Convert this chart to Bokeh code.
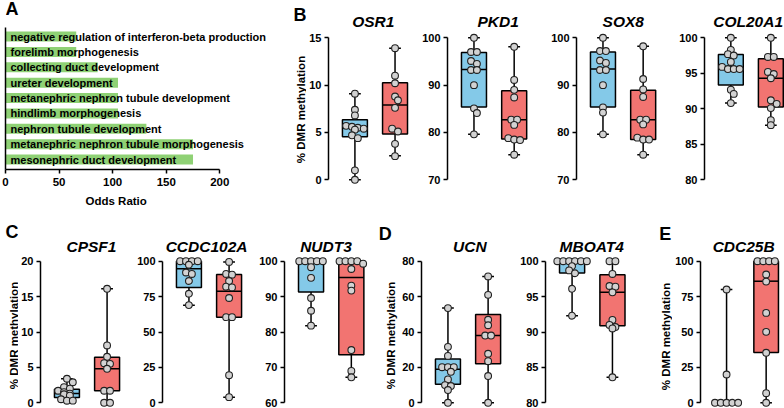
import numpy as np
from bokeh.plotting import figure
from bokeh.models import Range1d, FixedTicker
from bokeh.layouts import row, column
from bokeh.embed import file_html
from bokeh.resources import INLINE
from bokeh.core.properties import value

FONT = "Liberation Sans"
BLUE = "#84C9E8"
RED = "#F27471"
DOTC = "#D2D2D2"
GREEN = "#8FD175"

# ---------------- Panel A data ----------------
go_terms = [
    "negative regulation of interferon-beta production",
    "forelimb morphogenesis",
    "collecting duct development",
    "ureter development",
    "metanephric nephron tubule development",
    "hindlimb morphogenesis",
    "nephron tubule development",
    "metanephric nephron tubule morphogenesis",
    "mesonephric duct development",
]
odds_ratio = [66, 66, 86, 105, 105, 105, 131.5, 175, 175]
odds_ticks = [0, 50, 100, 150, 200]
odds_label = "Odds Ratio"

# ---------------- Box plot data (blue group, red group) ----------------
# box stats: [whisker min, Q1, median, Q3, whisker max]
OSR1_blue = [9.1, 7.4, 6.8, 5.7, 5.6, 5.5, 5.4, 5.3, 4.7, 4.4, 1.0, 0.0]
OSR1_red = [13.9, 11.0, 10.2, 8.8, 8.4, 7.6, 5.4, 5.1, 3.8, 2.5]
OSR1_blue_box = [0.0, 4.55, 5.45, 6.35, 9.1]
OSR1_red_box = [2.55, 4.85, 7.9, 10.25, 13.9]
OSR1_ticks = [0, 5, 10, 15]

PKD1_blue = [100, 97.0, 97.0, 95.1, 94.5, 93.2, 93.2, 90.0, 85.1, 84.1, 79.6]
PKD1_red = [98.1, 91.1, 89.0, 87.4, 82.7, 82.7, 81.6, 78.8, 78.5, 78.4, 75.3]
PKD1_blue_box = [79.6, 85.4, 93.3, 96.9, 100]
PKD1_red_box = [75.3, 78.6, 82.7, 88.8, 98.1]
PKD1_ticks = [70, 80, 90, 100]

SOX8_blue = [100, 97.2, 97.2, 95.2, 94.7, 93.2, 93.2, 90.0, 85.3, 84.2, 79.6]
SOX8_red = [98.2, 91.3, 89.1, 87.5, 82.7, 82.7, 81.7, 78.9, 78.5, 78.5, 75.3]
SOX8_blue_box = [79.6, 85.4, 93.4, 97.0, 100]
SOX8_red_box = [75.3, 78.5, 82.7, 88.9, 98.2]
SOX8_ticks = [70, 80, 90, 100]

COL20A1_blue = [100, 98.3, 97.7, 97.5, 96.6, 95.9, 95.6, 95.6, 95.6, 92.7, 92.1, 90.8]
COL20A1_red = [100, 97.3, 97.3, 95.2, 94.9, 94.3, 91.2, 90.7, 90.1, 88.4, 87.7]
COL20A1_blue_box = [90.8, 93.35, 95.65, 97.65, 100]
COL20A1_red_box = [87.7, 90.25, 94.3, 97.05, 100]
COL20A1_ticks = [80, 85, 90, 95, 100]

CPSF1_blue = [3.4, 2.9, 2.2, 2.0, 1.7, 1.5, 1.3, 1.2, 1.0, 0.5, 0.3, 0.3]
CPSF1_red = [16.1, 8.1, 6.5, 5.6, 5.5, 4.8, 1.7, 1.7, 0.0, 0.0]
CPSF1_blue_box = [0.3, 0.75, 1.3, 1.9, 3.4]
CPSF1_red_box = [0.0, 1.7, 4.8, 6.45, 16.1]
CPSF1_ticks = [0, 5, 10, 15, 20]

CCDC102A_blue = [100, 100, 100, 100, 97.5, 92, 91, 86, 77, 69]
CCDC102A_red = [99.5, 91, 90.5, 86, 82, 81.5, 74, 60.5, 60.5, 19.5, 4]
CCDC102A_blue_box = [68.9, 81.4, 94.6, 100, 100]
CCDC102A_red_box = [4.0, 60.5, 78.8, 90.6, 99.5]
CCDC102A_ticks = [0, 25, 50, 75, 100]

NUDT3_blue = [100, 100, 100, 100, 100, 98.3, 95.3, 89.6, 86.0, 81.8]
NUDT3_red = [100, 100, 100, 100, 99.3, 97.8, 93.1, 91.7, 74.9, 69.0, 67.2]
NUDT3_blue_box = [81.8, 91.3, 100, 100, 100]
NUDT3_red_box = [67.2, 73.6, 95.4, 100, 100]
NUDT3_ticks = [60, 70, 80, 90, 100]

UCN_blue = [53.5, 31.6, 26.5, 20.1, 20.1, 20.1, 17.5, 13.2, 10.0, 9.5, 7.2, 0.0]
UCN_red = [71.4, 61.0, 46.9, 43.8, 38.0, 38.0, 27.7, 23.5, 15.1, 0.0]
UCN_blue_box = [0.0, 10.5, 19.0, 24.7, 53.5]
UCN_red_box = [0.0, 22.0, 38.0, 49.9, 71.4]
UCN_ticks = [0, 20, 40, 60, 80]

MBOAT4_blue = [100, 100, 100, 100, 100, 100, 99.3, 98.7, 98.3, 96.1, 92.3]
MBOAT4_red = [100, 100, 98.2, 96.5, 96.4, 95.6, 91.7, 91.0, 90.7, 90.5, 83.6]
MBOAT4_blue_box = [92.3, 98.35, 100, 100, 100]
MBOAT4_red_box = [83.6, 90.9, 95.6, 98.1, 100]
MBOAT4_ticks = [80, 85, 90, 95, 100]

CDC25B_blue = [80, 20, 0, 0, 0, 0, 0]
CDC25B_red = [100, 100, 100, 100, 90.6, 85.6, 63.5, 50.1, 35.3, 6.8, 0]
CDC25B_blue_box = [0, 0, 0, 0, 80]
CDC25B_red_box = [0, 35.5, 85.9, 100, 100]
CDC25B_ticks = [0, 25, 50, 75, 100]

y_label = "% DMR methylation"
panel_letters = ["A", "B", "C", "D", "E"]

# ---------------- layout constants (page pixels) ----------------
W, H = 784, 408
TOP_H = 215
BOT_H = H - TOP_H
PX_PER_CAT = 41.0
FIRST_OFF = 27.0
BOX_W = 25.5 / PX_PER_CAT
CAP_W = 12.0 / PX_PER_CAT
DOT = 6.8

frames = []  # (fig, x0, x1, y0, y1, xs, xe, ys, ye) in page pixels / data


def put_text(px, py, text, size, style="bold", align="left", baseline="middle", angle=0.0):
    for (p, x0, x1, y0, y1, xs, xe, ys, ye) in frames:
        if x0 <= px <= x1 and y0 <= py <= y1:
            xd = xs + (px - x0) / (x1 - x0) * (xe - xs)
            yd = ye - (py - y0) / (y1 - y0) * (ye - ys)
            p.text(x=[xd], y=[yd], text=[text], angle=angle, text_align=align,
                   text_baseline=baseline, text_font=value(FONT), text_font_style=style,
                   text_font_size=size, text_color="black")
            return


def blank_fig(x0, x1, y0, y1):
    p = figure(width=x1 - x0, height=y1 - y0, x_range=Range1d(0, x1 - x0),
               y_range=Range1d(0, y1 - y0), title=None, output_backend="svg",
               toolbar_location=None, x_axis_location=None, y_axis_location=None,
               min_border_left=0, min_border_right=0, min_border_top=0, min_border_bottom=0)
    p.outline_line_color = None
    p.grid.visible = False
    frames.append((p, x0, x1, y0, y1, 0, x1 - x0, 0, y1 - y0))
    return p


def swarm(vals, k, d=6.0):
    order = sorted(range(len(vals)), key=lambda i: -vals[i])
    rows = []
    for i in order:
        py = vals[i] * k
        if rows and abs(rows[-1][0] - py) < 0.5 * d:
            rows[-1][1].append(i)
        else:
            rows.append([py, [i]])
    placed = []
    offs = [0.0] * len(vals)
    for _, idx in rows:
        m = len(idx)
        base = [(j - (m - 1) / 2) * d for j in range(m)]
        chosen = None
        for shift in [0, d / 2, -d / 2, d, -d]:
            cand = [(b + shift, vals[i] * k) for b, i in zip(base, idx)]
            ok = all((cx - qx) ** 2 + (cy - qy) ** 2 >= (0.8 * d) ** 2
                     for cx, cy in cand for qx, qy in placed)
            if ok:
                chosen = cand
                break
        if chosen is None:
            chosen = [(b, vals[i] * k) for b, i in zip(base, idx)]
        for (cx, cy), i in zip(chosen, idx):
            offs[i] = cx
        placed.extend(chosen)
    return offs


def style_yaxis(ax, ticks):
    ax.ticker = FixedTicker(ticks=ticks)
    ax.bounds = (ticks[0], ticks[-1])
    ax.axis_line_width = 1.5
    ax.axis_line_color = "black"
    ax.major_tick_line_width = 1.5
    ax.major_tick_line_color = "black"
    ax.major_tick_out = 4
    ax.major_tick_in = 0
    ax.minor_tick_line_color = None
    ax.major_label_standoff = 3
    ax.major_label_text_font = FONT
    ax.major_label_text_font_style = "bold"
    ax.major_label_text_font_size = "11px"
    ax.major_label_text_color = "black"


def box_fig(blue, red, blue_box, red_box, ticks, fig_left, axis_px, fig_right,
            row_top, row_bot, y_hi_px, y_lo_px):
    lo, hi = ticks[0], ticks[-1]
    k = (y_lo_px - y_hi_px) / (hi - lo)
    yr = Range1d(lo - (row_bot - y_lo_px) / k, hi + (y_hi_px - row_top) / k)

    def xd(px):
        return 1 + (px - axis_px - FIRST_OFF) / PX_PER_CAT

    xr = Range1d(xd(axis_px), xd(fig_right))
    p = figure(width=fig_right - fig_left, height=row_bot - row_top, x_range=xr, y_range=yr,
               title=None, output_backend="svg", toolbar_location=None, x_axis_location=None,
               min_border_left=axis_px - fig_left, min_border_right=0,
               min_border_top=0, min_border_bottom=0)
    p.outline_line_color = None
    p.grid.visible = False
    style_yaxis(p.yaxis[0], ticks)

    for gi, (vals, st, col) in enumerate([(blue, blue_box, BLUE), (red, red_box, RED)]):
        xc = gi + 1
        mn, q1, med, q3, mx = st
        p.segment(x0=[xc, xc], x1=[xc, xc], y0=[q3, q1], y1=[mx, mn],
                  line_color="black", line_width=1.5)
        p.segment(x0=[xc - CAP_W / 2] * 2, x1=[xc + CAP_W / 2] * 2, y0=[mx, mn], y1=[mx, mn],
                  line_color="black", line_width=1.5)
        p.vbar(x=[xc], width=BOX_W, bottom=[q1], top=[q3], fill_color=col,
               line_color="black", line_width=1.5)
        p.segment(x0=[xc - BOX_W / 2], x1=[xc + BOX_W / 2], y0=[med], y1=[med],
                  line_color="black", line_width=1.5)
        offs = swarm(vals, k)
        p.scatter(x=[xc + o / PX_PER_CAT for o in offs], y=vals, size=DOT,
                  fill_color=DOTC, line_color="#222222", line_width=1.1)
    frames.append((p, axis_px, fig_right, row_top, row_bot, xr.start, xr.end, yr.start, yr.end))
    return p


# ---------------- Panel A ----------------
A_RIGHT = 306
A_H = 192
A_FL, A_FT, A_FB = 5, 0, 169
A_SCALE = (219.3 - A_FL) / odds_ticks[-1]
A_ROW = 15.375
n = len(go_terms)
ypos = [n - 1 - i for i in range(n)]
a_yr = Range1d(0 - (A_FB - 159) / A_ROW, (n - 1) + (36 - A_FT) / A_ROW)
a_xr = Range1d(0, (A_RIGHT - A_FL) / A_SCALE)
pa = figure(width=A_RIGHT, height=A_H, x_range=a_xr, y_range=a_yr, title=None,
            output_backend="svg", toolbar_location=None,
            min_border_left=A_FL, min_border_right=0,
            min_border_top=A_FT, min_border_bottom=A_H - A_FB)
pa.outline_line_color = None
pa.grid.visible = False
pa.hbar(y=ypos, left=0, right=odds_ratio, height=10 / A_ROW, fill_color=GREEN, line_color=None)
pa.text(x=[0] * n, y=ypos, text=go_terms, x_offset=5, text_baseline="middle", text_align="left",
        text_font=value(FONT), text_font_style="bold", text_font_size="11px", text_color="black")
xa = pa.xaxis[0]
xa.ticker = FixedTicker(ticks=odds_ticks)
xa.bounds = (odds_ticks[0], odds_ticks[-1])
xa.axis_line_width = 1.5
xa.major_tick_line_width = 1.5
xa.major_tick_out = 4
xa.major_tick_in = 0
xa.minor_tick_line_color = None
xa.major_label_standoff = 4
xa.major_label_text_font = FONT
xa.major_label_text_font_style = "bold"
xa.major_label_text_font_size = "11.5px"
xa.major_label_text_color = "black"
ya = pa.yaxis[0]
ya.ticker = FixedTicker(ticks=[])
ya.bounds = (a_yr.start, (n - 1) + (36 - 27) / A_ROW)
ya.axis_line_width = 1.5
ya.major_tick_line_color = None
ya.minor_tick_line_color = None
ya.major_label_text_font_size = "0px"
frames.append((pa, A_FL, A_RIGHT, A_FT, A_FB, a_xr.start, a_xr.end, a_yr.start, a_yr.end))
odds_strip = blank_fig(0, A_RIGHT, A_H, TOP_H)

# ---------------- Top row ----------------
TOP_HI, TOP_LO = 37.3, 179.3
top_specs = [  # gene, data..., fig_left, axis_px, fig_right, title centre
    ("OSR1", OSR1_blue, OSR1_red, OSR1_blue_box, OSR1_red_box, OSR1_ticks, 306, 326, 419, 371.8),
    ("PKD1", PKD1_blue, PKD1_red, PKD1_blue_box, PKD1_red_box, PKD1_ticks, 419, 445, 548, 496.7),
    ("SOX8", SOX8_blue, SOX8_red, SOX8_blue_box, SOX8_red_box, SOX8_ticks, 548, 574, 676, 621.7),
    ("COL20A1", COL20A1_blue, COL20A1_red, COL20A1_blue_box, COL20A1_red_box, COL20A1_ticks,
     676, 702, 784, 746.7),
]
top_figs = [column(pa, odds_strip, spacing=0)]
for (g, b, r, bb, rb, t, fl, ax_px, fr, tc) in top_specs:
    top_figs.append(box_fig(b, r, bb, rb, t, fl, ax_px, fr, 0, TOP_H, TOP_HI, TOP_LO))

# ---------------- Bottom row ----------------
BOT_HI, BOT_LO = 260.7, 402.3
strip = blank_fig(0, 18, TOP_H, H)
bot_specs = [
    ("CPSF1", CPSF1_blue, CPSF1_red, CPSF1_blue_box, CPSF1_red_box, CPSF1_ticks, 18, 38, 134, 90.0),
    ("CCDC102A", CCDC102A_blue, CCDC102A_red, CCDC102A_blue_box, CCDC102A_red_box, CCDC102A_ticks,
     134, 160, 256, 205.0),
    ("NUDT3", NUDT3_blue, NUDT3_red, NUDT3_blue_box, NUDT3_red_box, NUDT3_ticks, 256, 282, 399, 324.2),
    ("UCN", UCN_blue, UCN_red, UCN_blue_box, UCN_red_box, UCN_ticks, 399, 419, 517, 468.3),
    ("MBOAT4", MBOAT4_blue, MBOAT4_red, MBOAT4_blue_box, MBOAT4_red_box, MBOAT4_ticks,
     517, 543, 672, 590.0),
    ("CDC25B", CDC25B_blue, CDC25B_red, CDC25B_blue_box, CDC25B_red_box, CDC25B_ticks,
     672, 697, 784, 741.7),
]
bot_figs = [strip]
for (g, b, r, bb, rb, t, fl, ax_px, fr, tc) in bot_specs:
    bot_figs.append(box_fig(b, r, bb, rb, t, fl, ax_px, fr, TOP_H, H, BOT_HI, BOT_LO))

# ---------------- texts outside the plotting areas ----------------
put_text(112.5, 200.0, odds_label, "11.5px", "bold", "center")
for spec in top_specs:
    put_text(spec[-1], 20.9, spec[0], "15.5px", "bold italic", "center")
for spec in bot_specs:
    put_text(spec[-1], 245.9, spec[0], "15.5px", "bold italic", "center")

letter_pos = [(5, 8.6), (293, 14.2), (5, 231.7), (378, 233.4), (658.5, 233.4)]
for L, (lx, ly) in zip(panel_letters, letter_pos):
    put_text(lx, ly, L, "18px", "bold", "left")

for (lx, ly) in [(300.5, 109.0), (13.0, 335.0), (390.3, 335.0), (665.0, 336.0)]:
    put_text(lx, ly, y_label, "11.5px", "bold", "center", "middle", np.pi / 2)

layout = column(row(*top_figs, spacing=0), row(*bot_figs, spacing=0), spacing=0)
open("out.html", "w").write(file_html(layout, INLINE))
